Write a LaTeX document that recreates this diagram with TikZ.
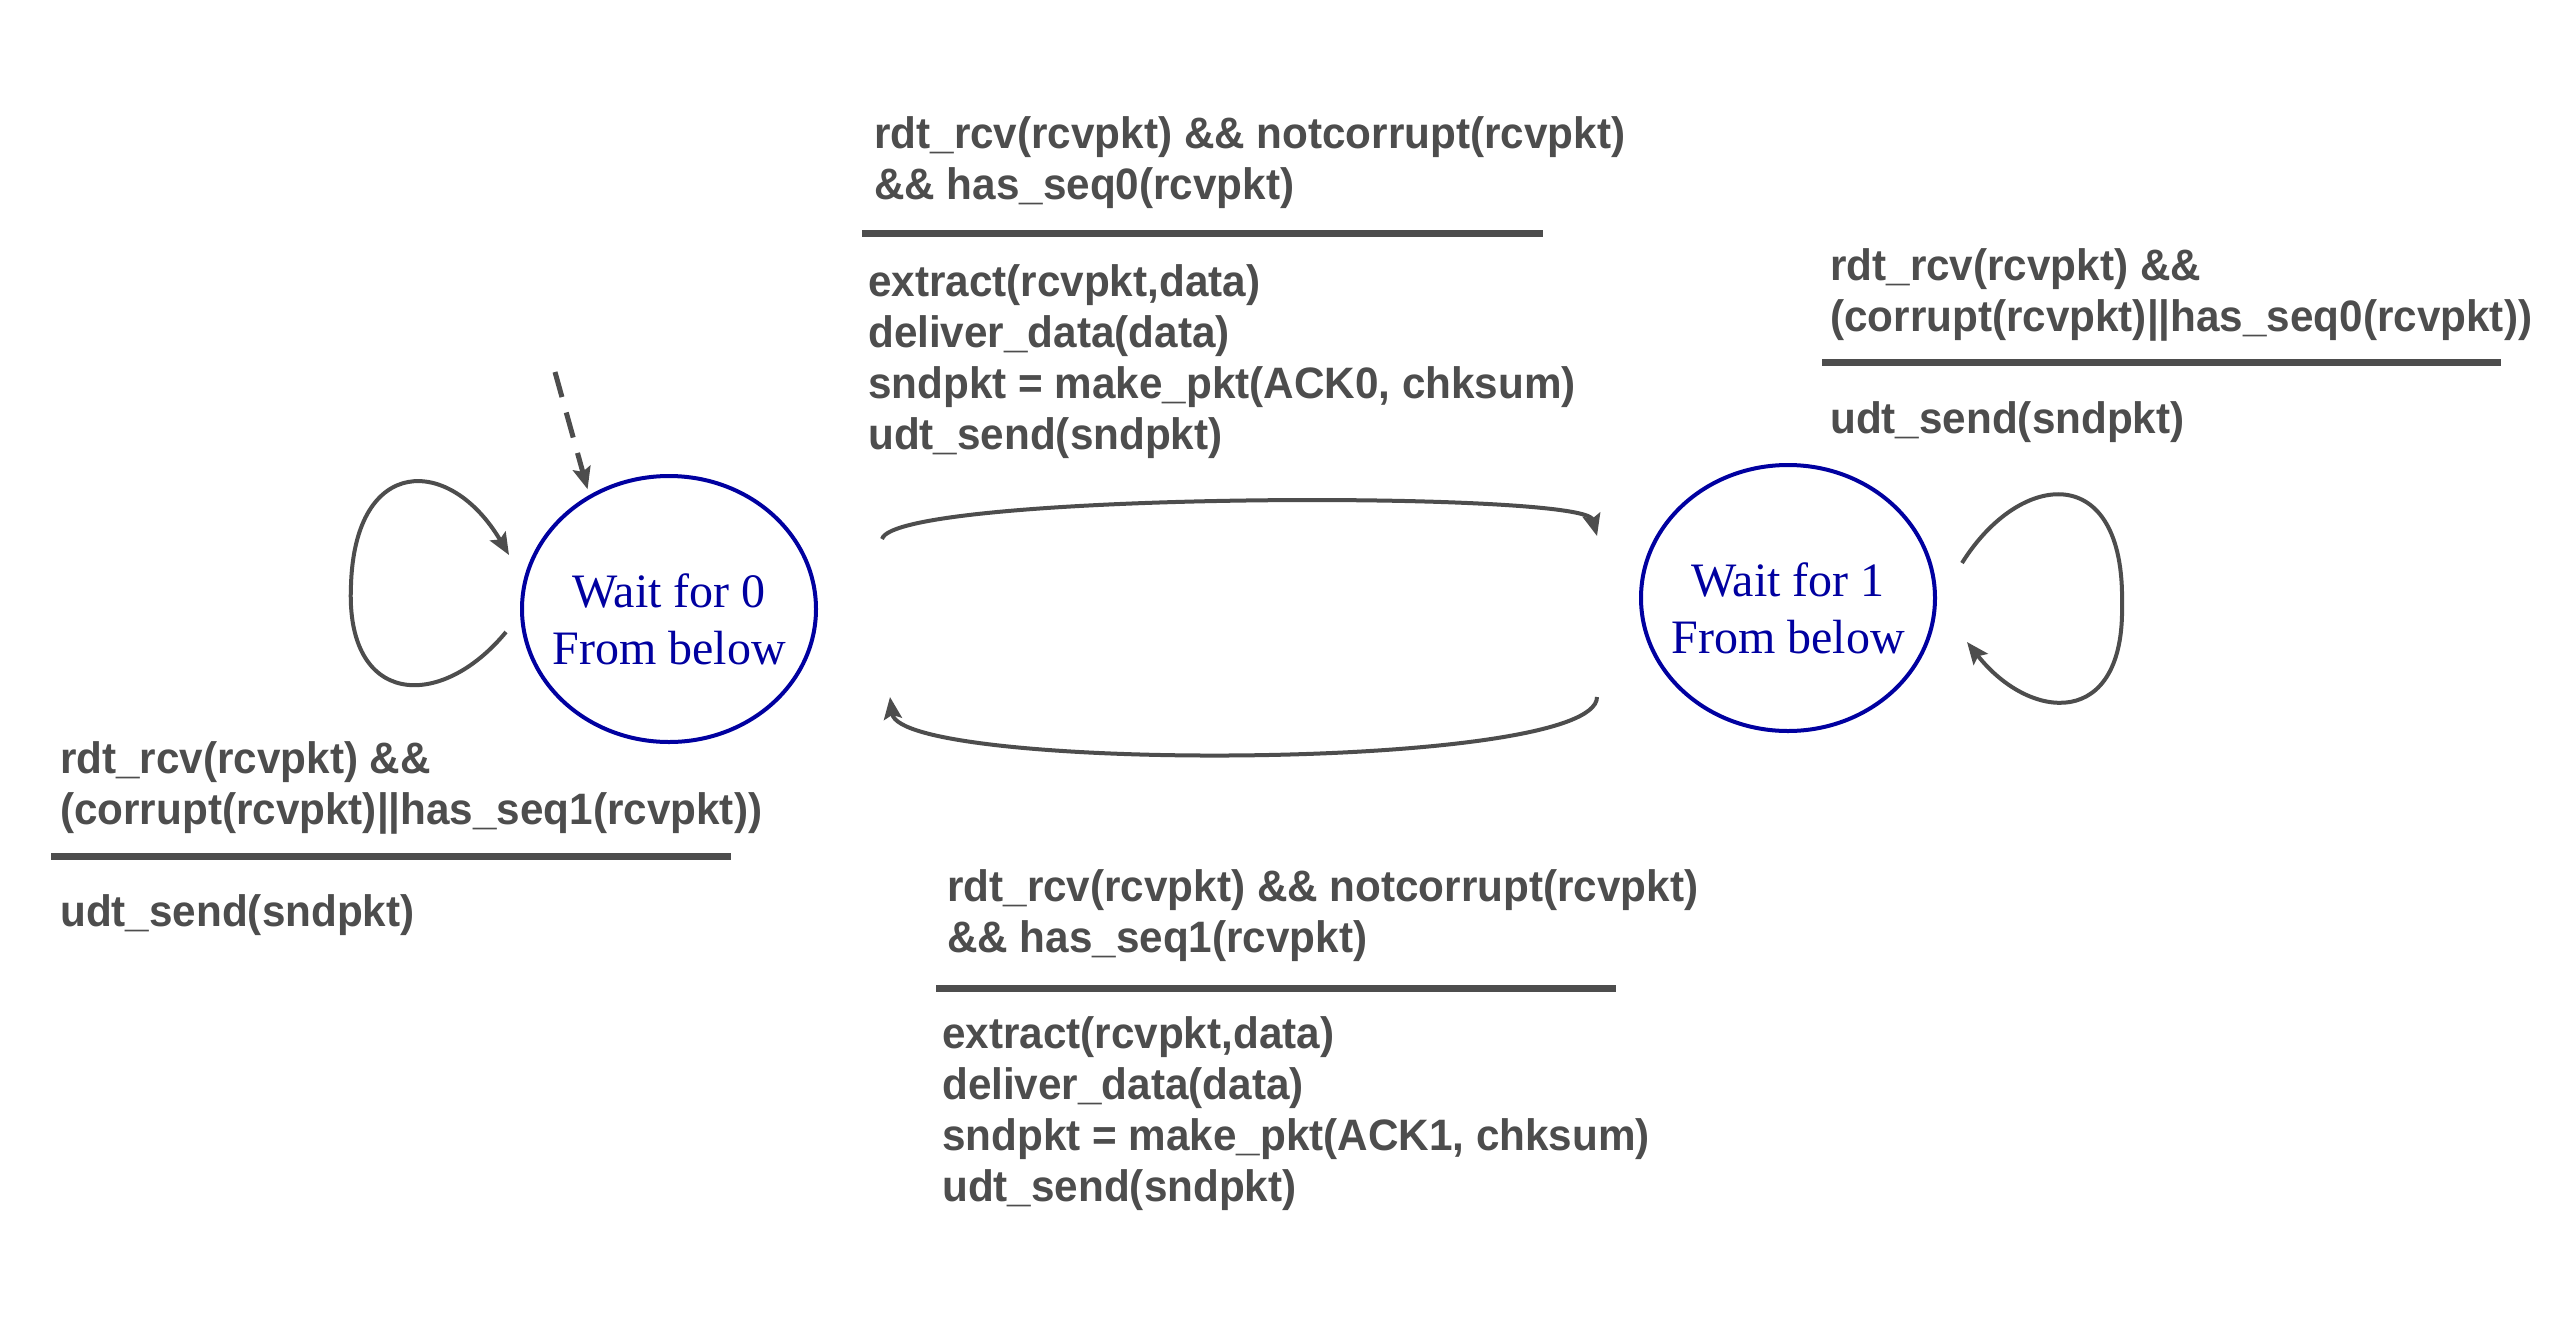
\documentclass[tikz,border=0pt]{standalone}
\usepackage{fontspec}
\usetikzlibrary{arrows.meta,shapes.geometric}
\newfontfamily\lblfont{Liberation Sans Bold}[FakeStretch=0.96]
\newfontfamily\statefont{Liberation Serif}
\definecolor{txtgray}{HTML}{4D4D4D}
\definecolor{stateblue}{RGB}{0,0,160}
\begin{document}
\begin{tikzpicture}[x=1pt,y=-1pt,
  state/.style={ellipse, draw=stateblue, line width=4pt, minimum width=294pt, minimum height=266pt, inner sep=0pt},
  statetext/.style={inner sep=0pt, align=center, text=stateblue, yshift=-10pt, font=\statefont\fontsize{48}{57}\selectfont},
  lbl/.style={anchor=west, inner sep=0pt, align=left, text=txtgray, font=\lblfont\fontsize{44}{51}\selectfont},
  bar/.style={line width=7pt, draw=txtgray},
  trans/.style={line width=4pt, draw=txtgray, -{Stealth[length=22pt,width=18pt,inset=4pt]}},
  initarr/.style={trans, line width=5pt, dash pattern=on 26pt off 16pt},
]
\fill[white] (0,0) rectangle (2560,1328);
\useasboundingbox (0,0) rectangle (2560,1328);

% states
\node[state, label={[statetext]center:Wait for 0\\From below}] (s0) at (669,609) {};
\node[state, label={[statetext]center:Wait for 1\\From below}] (s1) at (1788,598) {};

% free ends of connectors
\coordinate (init) at (555,372);
\coordinate (l0s) at (506,632);
\coordinate (l0e) at (509,555);
\coordinate (r1s) at (1962,563);
\coordinate (r1e) at (1967,642);
\coordinate (t0) at (882,539);
\coordinate (t1) at (1597,536);
\coordinate (b1) at (1597,697);
\coordinate (b0) at (890,697);

% initial arrow
\draw[initarr, shorten >=6pt] (init) -- (s0.125);

% self loops
\draw[trans] (l0s) .. controls (440,712) and (345,706) .. (351,585)
  .. controls (355,455) and (450,455) .. (l0e);
\draw[trans] (r1s) .. controls (2020,470) and (2125,460) .. (2122,604)
  .. controls (2125,730) and (2030,722) .. (r1e);

% transitions between states
\draw[trans] (t0) .. controls (895,492) and (1585,490) .. (t1);
\draw[trans] (b1) .. controls (1597,772) and (900,772) .. (b0);

% top label
\node[lbl] (c0) at (874,163) {rdt\_rcv(rcvpkt) \&\& notcorrupt(rcvpkt)\\\&\& has\_seq0(rcvpkt)};
\draw[bar] (862,233) -- (1543,233);
\node[lbl] (a0) at (868,362) {extract(rcvpkt,data)\\deliver\_data(data)\\sndpkt = make\_pkt(ACK0, chksum)\\udt\_send(sndpkt)};

% right label
\node[lbl] (c1r) at (1830,295) {rdt\_rcv(rcvpkt) \&\&\\(corrupt(rcvpkt)||has\_seq0(rcvpkt))};
\draw[bar] (1822,362) -- (2501,362);
\node[lbl] (a1r) at (1830,422) {udt\_send(sndpkt)};

% left label
\node[lbl] (c0l) at (60,788) {rdt\_rcv(rcvpkt) \&\&\\(corrupt(rcvpkt)||has\_seq1(rcvpkt))};
\draw[bar] (51,856) -- (731,856);
\node[lbl] (a0l) at (60,915) {udt\_send(sndpkt)};

% bottom label
\node[lbl] (c1) at (947,916) {rdt\_rcv(rcvpkt) \&\& notcorrupt(rcvpkt)\\\&\& has\_seq1(rcvpkt)};
\draw[bar] (936,988) -- (1616,988);
\node[lbl] (a1) at (942,1114) {extract(rcvpkt,data)\\deliver\_data(data)\\sndpkt = make\_pkt(ACK1, chksum)\\udt\_send(sndpkt)};
\end{tikzpicture}
\end{document}
